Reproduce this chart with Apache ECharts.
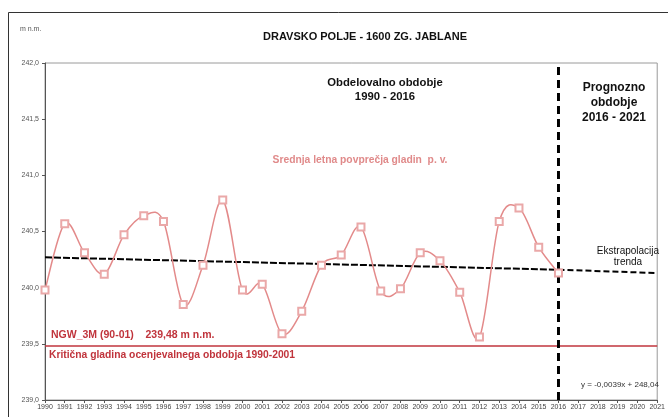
<!DOCTYPE html>
<html><head><meta charset="utf-8">
<script src="https://cdn.jsdelivr.net/npm/echarts@6/dist/echarts.min.js"></script>
<style>html,body{margin:0;padding:0;background:#fff}#c{width:668px;height:417px}</style>
</head><body><div id="c"></div>
<script>
const years = [1990,1991,1992,1993,1994,1995,1996,1997,1998,1999,2000,2001,2002,2003,2004,2005,2006,2007,2008,2009,2010,2011,2012,2013,2014,2015,2016];
const levels = [239.98,240.57,240.31,240.12,240.47,240.64,240.59,239.85,240.20,240.78,239.98,240.03,239.59,239.79,240.20,240.29,240.54,239.97,239.99,240.31,240.24,239.96,239.56,240.59,240.71,240.36,240.13];
const trendYears = [1990, 2016];
const trendValues = [240.27, 240.16];
const extrapYears = [2016, 2021];
const extrapValues = [240.16, 240.13];
const criticalLevel = 239.48;
const forecastStart = 2016;
const xMin = 1990, xMax = 2021;
const yMin = 239.0, yMax = 242.0, yStep = 0.5;

const FONT = '"Liberation Sans", Arial, sans-serif';
const chart = echarts.init(document.getElementById('c'), null, {renderer: 'canvas'});
const pair = (xs, ys) => xs.map((x, i) => [x, ys[i]]);
const levelData = pair(years, levels);

// Excel-like (Catmull-Rom) smoothed curve through the data, positioned via the axes' coord transform
function renderSmooth(params, api) {
  if (params.dataIndex !== 0) return null;
  const pts = levelData.map(d => api.coord(d));
  let path = 'M' + pts[0][0] + ' ' + pts[0][1];
  for (let i = 0; i < pts.length - 1; i++) {
    const p0 = pts[Math.max(i - 1, 0)], p1 = pts[i], p2 = pts[i + 1], p3 = pts[Math.min(i + 2, pts.length - 1)];
    const c1 = [p1[0] + (p2[0] - p0[0]) / 6, p1[1] + (p2[1] - p0[1]) / 6];
    const c2 = [p2[0] - (p3[0] - p1[0]) / 6, p2[1] - (p3[1] - p1[1]) / 6];
    path += ' C' + c1[0] + ' ' + c1[1] + ' ' + c2[0] + ' ' + c2[1] + ' ' + p2[0] + ' ' + p2[1];
  }
  return {type: 'path', shape: {pathData: path}, style: {fill: null, stroke: '#e38a8a', lineWidth: 1.5}};
}

chart.setOption({
  animation: false,
  backgroundColor: '#fff',
  textStyle: {fontFamily: FONT},
  grid: {left: 45, right: 7, top: 63, bottom: 17, show: true, borderColor: '#9a9a9a', borderWidth: 1},
  xAxis: {
    type: 'value', min: xMin, max: xMax, interval: 1,
    axisLine: {lineStyle: {color: '#555', width: 1}},
    axisTick: {show: true, length: 3, inside: false, lineStyle: {color: '#555'}},
    axisLabel: {fontSize: 7, color: '#444', margin: 4, formatter: v => String(v), fontFamily: FONT, showMaxLabel: true},
    splitLine: {show: false}
  },
  yAxis: {
    type: 'value', min: yMin, max: yMax, interval: yStep,
    axisLine: {show: true, lineStyle: {color: '#555', width: 1}},
    axisTick: {show: true, length: 3, lineStyle: {color: '#555'}},
    axisLabel: {fontSize: 7, color: '#555', margin: 6, formatter: v => v.toFixed(1).replace('.', ','), fontFamily: FONT},
    splitLine: {show: false}
  },
  series: [
    {
      type: 'line', data: pair(trendYears, trendValues), symbol: 'none',
      lineStyle: {color: '#000', width: 2, type: [7, 2]}, z: 3
    },
    {
      type: 'line', data: pair(extrapYears, extrapValues), symbol: 'none',
      lineStyle: {color: '#000', width: 2, type: [6, 3]}, z: 3
    },
    {
      type: 'line', data: [[xMin, criticalLevel], [xMax, criticalLevel]], symbol: 'none',
      lineStyle: {color: '#c0343c', width: 1.5}, z: 2
    },
    {
      type: 'line', data: [[forecastStart, yMin], [forecastStart, yMax]], symbol: 'none',
      lineStyle: {color: '#000', width: 3, type: [8, 5]}, z: 4
    },
    {
      type: 'custom', data: levelData, renderItem: renderSmooth, z: 5, silent: true
    },
    {
      type: 'line', data: levelData,
      symbol: 'emptyRect', symbolSize: 7,
      lineStyle: {width: 0, opacity: 0},
      itemStyle: {color: '#eaa8a8', borderColor: '#eaa8a8', borderWidth: 1},
      z: 6
    }
  ],
  graphic: [
    {type: 'rect', shape: {x: 8.5, y: 12.5, width: 700, height: 500}, style: {fill: null, stroke: '#333', lineWidth: 1}, silent: true, z: -1},
    {type: 'text', left: 20, top: 26, style: {text: 'm n.m.', font: '7px ' + FONT, fill: '#555'}},
    {type: 'text', x: 365, y: 37, style: {text: 'DRAVSKO POLJE - 1600 ZG. JABLANE', font: 'bold 11px ' + FONT, fill: '#111', textAlign: 'center', textVerticalAlign: 'middle'}},
    {type: 'text', x: 385, y: 90, style: {text: 'Obdelovalno obdobje\n1990 - 2016', font: 'bold 11.3px ' + FONT, fill: '#111', textAlign: 'center', textVerticalAlign: 'middle', lineHeight: 14}},
    {type: 'text', x: 614, y: 103, style: {text: 'Prognozno\nobdobje\n2016 - 2021', font: 'bold 12px ' + FONT, fill: '#111', textAlign: 'center', textVerticalAlign: 'middle', lineHeight: 15}},
    {type: 'text', x: 360, y: 160, style: {text: 'Srednja letna povprečja gladin  p. v.', font: 'bold 10.3px ' + FONT, fill: '#e08a8a', textAlign: 'center', textVerticalAlign: 'middle'}},
    {type: 'text', x: 628, y: 257, style: {text: 'Ekstrapolacija\ntrenda', font: '10px ' + FONT, fill: '#111', textAlign: 'center', textVerticalAlign: 'middle', lineHeight: 11}},
    {type: 'text', x: 51, y: 335, style: {text: 'NGW_3M (90-01)    239,48 m n.m.', font: 'bold 10.5px ' + FONT, fill: '#c0343c', textVerticalAlign: 'middle'}},
    {type: 'text', x: 49, y: 355, style: {text: 'Kritična gladina ocenjevalnega obdobja 1990-2001', font: 'bold 10.3px ' + FONT, fill: '#c0343c', textVerticalAlign: 'middle'}},
    {type: 'text', x: 620, y: 385, style: {text: 'y = -0,0039x + 248,04', font: '8px ' + FONT, fill: '#333', textAlign: 'center', textVerticalAlign: 'middle'}}
  ]
});
</script></body></html>
